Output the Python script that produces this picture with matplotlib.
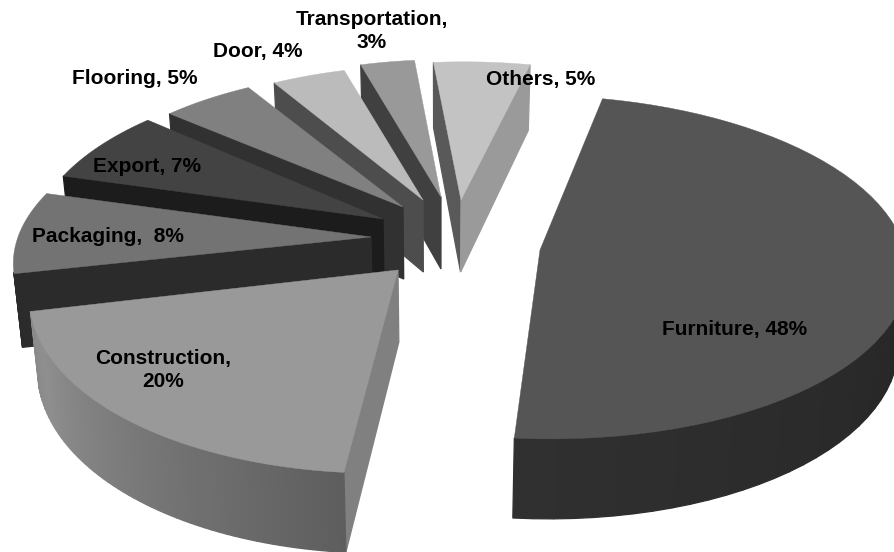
import numpy as np
import matplotlib
matplotlib.use("Agg")
import matplotlib.pyplot as plt
from matplotlib.patches import Polygon

categories = ["Furniture", "Construction", "Packaging", "Export", "Flooring", "Door", "Transportation", "Others"]
shares = [48, 20, 8, 7, 5, 4, 3, 5]
label_texts = ["Furniture, 48%", "Construction,\n20%", "Packaging,  8%", "Export, 7%",
               "Flooring, 5%", "Door, 4%", "Transportation,\n3%", "Others, 5%"]

# layout of the exploded slices, in axes units
apex_x = [540, 398, 371, 383, 403, 423, 441, 461]
apex_y = [250, 270, 237, 219, 207, 200, 197, 200]
radius_x = [365, 365, 353, 346, 334, 325, 318, 340]
radius_y = [170, 183, 162, 160, 151, 148, 151, 152]
vanish_x = [440, 555, 590, 530, 440, 480, 460, 490]
label_x = [735, 163, 108, 147, 135, 258, 372, 541]
label_y = [329, 370, 236, 166, 78, 52, 31, 80]

top_grey = ["#555555", "#999999", "#737373", "#434343", "#808080", "#bbbbbb", "#999999", "#c3c3c3"]
wall_start = ["#000000", "#808080", "#2b2b2b", "#1c1c1c", "#313131", "#4d4d4d", "#404040", "#595959"]
wall_end = ["#2e2e2e", "#606060", "#2b2b2b", "#1c1c1c", "#313131", "#4d4d4d", "#404040", "#9a9a9a"]
rim_grey_a = [0.11, 0.37, 0.17, 0.11, 0.19, 0.30, 0.25, 0.35]
rim_grey_b = [0.19, 0.55, 0.17, 0.11, 0.19, 0.30, 0.25, 0.60]

persp = 0.10
depth = 72
start_angle = 12.4
floor_cx = 440
floor_shrink = 0.98

fig = plt.figure(figsize=(8.94, 5.52), dpi=100)
ax = fig.add_axes([0, 0, 1, 1])
ax.set_xlim(0, 894)
ax.set_ylim(552, 0)
ax.axis("off")


def project(x0, y0, rx, ry, vx, theta):
    d = 1 + persp * np.cos(theta)
    return vx + (x0 - vx + rx * np.sin(theta)) / d, y0 - ry * np.cos(theta) / d, depth / d


edges = start_angle + np.concatenate([[0], np.cumsum(shares)]) * 3.6

# back slices first
for i in [7, 6, 5, 4, 3, 2, 1, 0]:
    th = np.radians(np.linspace(edges[i], edges[i + 1], 60))
    px, py, h = project(apex_x[i], apex_y[i], radius_x[i], radius_y[i], vanish_x[i], th)
    xs = np.concatenate([[apex_x[i]], px])
    ys = np.concatenate([[apex_y[i]], py])
    ds = np.concatenate([[depth], h])
    # bottom face sits a little further away
    bx = floor_cx + (xs - floor_cx) * floor_shrink
    n = len(xs)
    for j in range(n):
        k = (j + 1) % n
        quad = np.array([[xs[j], ys[j]], [xs[k], ys[k]], [bx[k], ys[k] + ds[k]], [bx[j], ys[j] + ds[j]]])
        qx, qy = quad[:, 0], quad[:, 1]
        area = np.sum(qx * np.roll(qy, -1) - np.roll(qx, -1) * qy)
        if area >= 0:
            continue
        if j == 0:
            col = wall_start[i]
        elif j == n - 1:
            col = wall_end[i]
        else:
            t = (j - 1) / (n - 2)
            if i == 1:
                g = np.interp(t, [0, 0.5, 0.85, 1], [0.37, 0.48, 0.56, 0.54])
            else:
                g = rim_grey_a[i] + (rim_grey_b[i] - rim_grey_a[i]) * t
            col = str(g)
        ax.add_patch(Polygon(quad, closed=True, facecolor=col, edgecolor=col, lw=0.9))
    ax.add_patch(Polygon(np.column_stack([xs, ys]), closed=True, facecolor=top_grey[i], edgecolor=top_grey[i], lw=0.3))

for i, name in enumerate(categories):
    ax.text(label_x[i], label_y[i], label_texts[i], ha="center", va="center", fontsize=15,
            fontweight="bold", family="Liberation Sans", color="black", linespacing=1.25)

fig.savefig("out.png", dpi=100)
plt.close(fig)
